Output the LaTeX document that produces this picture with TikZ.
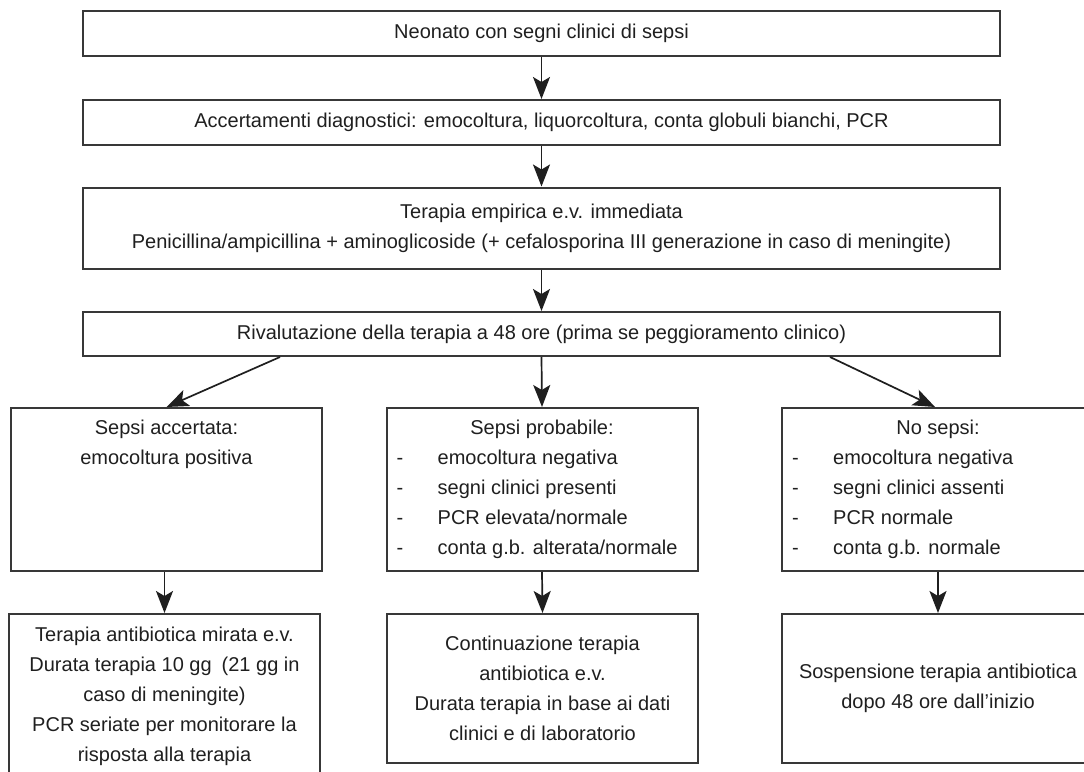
\documentclass[tikz,border=0pt]{standalone}
\usepackage{fontspec}
\setmainfont{Liberation Sans}
\usetikzlibrary{arrows.meta}
\begin{document}
\begin{tikzpicture}[x=1pt,y=-1pt,
  box/.style={draw=black!78, line width=2pt, inner sep=0pt, text=black!88,
    font=\fontsize{20}{30}\selectfont, align=center},
  txt/.style={inner sep=0pt, text=black!88, font=\fontsize{20}{30}\selectfont},
  arr/.style={draw=black!88, line width=1.7pt,
    -{Stealth[length=22pt,width=17pt,inset=5pt]}}]
\useasboundingbox (0,0) rectangle (1084,771);
\begin{scope}
\clip (0,0) rectangle (1084,771);

% main column
\node[box, minimum width=917pt, minimum height=45pt] (n1) at (541.5,33.5)
  {Neonato con segni clinici di sepsi};
\node[box, minimum width=917pt, minimum height=45pt] (n2) at (541.5,122.5)
  {Accertamenti diagnostici: emocoltura, liquorcoltura, conta globuli bianchi, PCR};
\node[box, minimum width=917pt, minimum height=81pt] (n3) at (541.5,228)
  {Terapia empirica e.v. immediata\\Penicillina/ampicillina + aminoglicoside (+ cefalosporina III generazione in caso di meningite)};
\node[box, minimum width=917pt, minimum height=44pt] (n4) at (541.5,334)
  {Rivalutazione della terapia a 48 ore (prima se peggioramento clinico)};

% classification boxes
\node[box, minimum width=311pt, minimum height=163pt] (b1) at (166.5,489.5) {};
\node[box, minimum width=311pt, minimum height=163pt] (b2) at (542,489.5) {};
\node[box, minimum width=312pt, minimum height=163pt] (b3) at (938,489.5) {};

\node[txt, anchor=base] (t1) at ([yshift=-27pt]b1.north)
  {\begin{tabular}[t]{@{}c@{}}Sepsi accertata:\\emocoltura positiva\end{tabular}};

\node[txt, anchor=base] (t2) at ([yshift=-27pt]b2.north) {Sepsi probabile:};
\node[txt, anchor=base west] (l2) at ([xshift=11pt,yshift=-57pt]b2.north west)
  {\begin{tabular}[t]{@{}p{41pt}@{}l@{}}
  - & emocoltura negativa\\
  - & segni clinici presenti\\
  - & PCR elevata/normale\\
  - & conta g.b. alterata/normale
  \end{tabular}};

\node[txt, anchor=base] (t3) at ([yshift=-27pt]b3.north) {No sepsi:};
\node[txt, anchor=base west] (l3) at ([xshift=11pt,yshift=-57pt]b3.north west)
  {\begin{tabular}[t]{@{}p{41pt}@{}l@{}}
  - & emocoltura negativa\\
  - & segni clinici assenti\\
  - & PCR normale\\
  - & conta g.b. normale
  \end{tabular}};

% therapy boxes
\node[box, minimum width=311pt, minimum height=186pt] (c1) at (164.5,707) {};
\node[txt, anchor=base] (t4) at ([yshift=-28pt]c1.north)
  {\begin{tabular}[t]{@{}c@{}}Terapia antibiotica mirata e.v.\\
   Durata terapia 10 gg\enspace(21 gg in\\caso di meningite)\\
   PCR seriate per monitorare la\\risposta alla terapia\end{tabular}};
\node[box, minimum width=311pt, minimum height=149pt] (c2) at (542.5,688.5)
  {Continuazione terapia\\antibiotica e.v.\\Durata terapia in base ai dati\\clinici e di laboratorio};
\node[box, minimum width=312pt, minimum height=149pt] (c3) at (938,688.5)
  {Sospensione terapia antibiotica\\dopo 48 ore dall'inizio};

% connectors
\draw[arr] (n1.south) -- (n2.north);
\draw[arr] (n2.south) -- (n3.north);
\draw[arr] (n3.south) -- (n4.north);
\draw[arr] ([xshift=-261.5pt]n4.south) -- (b1.north);
\draw[arr] (n4.south) -- (b2.north);
\draw[arr] ([xshift=288.5pt]n4.south) -- ([xshift=-3pt]b3.north);
\draw[arr] (c1.north |- b1.south) -- (c1.north);
\draw[arr] (b2.south) -- (c2.north);
\draw[arr] (b3.south) -- (c3.north);
\end{scope}
\end{tikzpicture}
\end{document}
